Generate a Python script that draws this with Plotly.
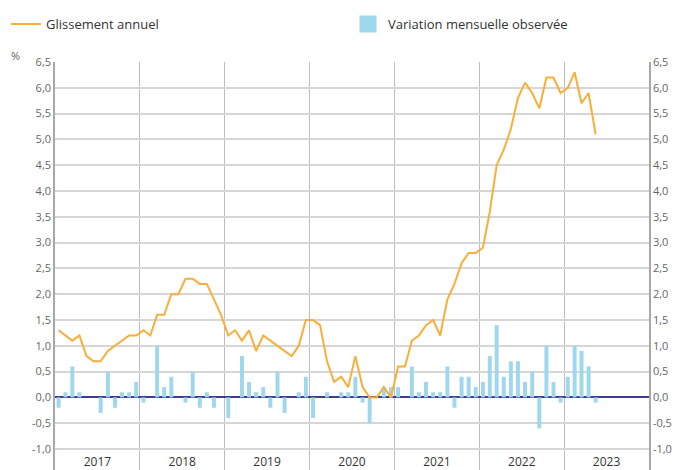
import plotly.graph_objects as go
import pandas as pd

months = pd.date_range("2017-01-01", "2023-05-01", freq="MS")

glissement_annuel = [
    1.3, 1.2, 1.1, 1.2, 0.8, 0.7, 0.7, 0.9, 1.0, 1.1, 1.2, 1.2,   # 2017
    1.3, 1.2, 1.6, 1.6, 2.0, 2.0, 2.3, 2.3, 2.2, 2.2, 1.9, 1.6,   # 2018
    1.2, 1.3, 1.1, 1.3, 0.9, 1.2, 1.1, 1.0, 0.9, 0.8, 1.0, 1.5,   # 2019
    1.5, 1.4, 0.7, 0.3, 0.4, 0.2, 0.8, 0.2, 0.0, 0.0, 0.2, 0.0,   # 2020
    0.6, 0.6, 1.1, 1.2, 1.4, 1.5, 1.2, 1.9, 2.2, 2.6, 2.8, 2.8,   # 2021
    2.9, 3.6, 4.5, 4.8, 5.2, 5.8, 6.1, 5.9, 5.6, 6.2, 6.2, 5.9,   # 2022
    6.0, 6.3, 5.7, 5.9, 5.1,                                      # 2023
]

variation_mensuelle = [
    -0.2, 0.1, 0.6, 0.1, 0.0, 0.0, -0.3, 0.5, -0.2, 0.1, 0.1, 0.3,   # 2017
    -0.1, 0.0, 1.0, 0.2, 0.4, 0.0, -0.1, 0.5, -0.2, 0.1, -0.2, 0.0,  # 2018
    -0.4, 0.0, 0.8, 0.3, 0.1, 0.2, -0.2, 0.5, -0.3, 0.0, 0.1, 0.4,   # 2019
    -0.4, 0.0, 0.1, 0.0, 0.1, 0.1, 0.4, -0.1, -0.5, 0.0, 0.2, 0.2,   # 2020
    0.2, 0.0, 0.6, 0.1, 0.3, 0.1, 0.1, 0.6, -0.2, 0.4, 0.4, 0.2,     # 2021
    0.3, 0.8, 1.4, 0.4, 0.7, 0.7, 0.3, 0.5, -0.6, 1.0, 0.3, -0.1,    # 2022
    0.4, 1.0, 0.9, 0.6, -0.1,                                        # 2023
]

y_tickvals = [-1.0, -0.5, 0.0, 0.5, 1.0, 1.5, 2.0, 2.5, 3.0, 3.5, 4.0, 4.5, 5.0, 5.5, 6.0, 6.5]
y_ticktext = ["-1,0", "-0,5", "0,0", "0,5", "1,0", "1,5", "2,0", "2,5", "3,0", "3,5",
              "4,0", "4,5", "5,0", "5,5", "6,0", "6,5"]

LINE_COLOR = "#F9AE3A"
BAR_COLOR = "#9FD7EF"
GRID = "#d6d6d6"
VGRID = "#bdbdbd"
FONT = "Open Sans"

fig = go.Figure()

fig.add_trace(go.Bar(
    x=months, y=variation_mensuelle,
    xperiod="M1", xperiodalignment="middle",
    marker=dict(color=BAR_COLOR, line=dict(width=0)),
    name="Variation mensuelle observée",
    yaxis="y", showlegend=False,
))
fig.add_trace(go.Scatter(
    x=months, y=glissement_annuel,
    xperiod="M1", xperiodalignment="middle",
    mode="lines", line=dict(color=LINE_COLOR, width=2),
    name="Glissement annuel",
    yaxis="y2", showlegend=False,
))
# legend entries
fig.add_trace(go.Scatter(
    x=[None], y=[None], mode="lines", line=dict(color=LINE_COLOR, width=2),
    name="Glissement annuel", yaxis="y2", legend="legend",
))
fig.add_trace(go.Bar(
    x=[None], y=[None], marker=dict(color=BAR_COLOR, line=dict(color=BAR_COLOR, width=5)),
    name="Variation mensuelle observée", yaxis="y", legend="legend2",
))

yr = [-1.407, 6.5]
legend_common = dict(
    orientation="h", yanchor="middle", y=1.093, xanchor="left",
    font=dict(family=FONT, size=13, color="#333333"),
    bgcolor="rgba(0,0,0,0)",
)

fig.update_layout(
    width=687, height=470,
    margin=dict(l=55, r=38, t=62, b=0, autoexpand=False),
    paper_bgcolor="white", plot_bgcolor="white",
    font=dict(family=FONT, size=11, color="#666666"),
    bargap=0.42,
    showlegend=True,
    legend=dict(x=-0.0825, **legend_common),
    legend2=dict(x=0.4933, **legend_common),
    xaxis=dict(
        type="date",
        range=["2017-01-01", "2024-01-01"],
        tick0="2017-01-01", dtick="M12", tickformat="%Y",
        ticklabelmode="period", ticklabelposition="inside",
        ticklabelstandoff=-1,
        showgrid=True, gridcolor=VGRID, gridwidth=1,
        ticks="", showline=False, zeroline=False,
        tickfont=dict(family=FONT, size=12, color="#333333"),
        fixedrange=True,
    ),
    yaxis=dict(
        range=yr, tickvals=y_tickvals, ticktext=y_ticktext,
        showgrid=True, gridcolor=GRID, gridwidth=1.5,
        zeroline=True, zerolinecolor="#3d3d8f", zerolinewidth=1.5,
        showline=True, linecolor="#a8a8a8", linewidth=1.5,
        ticks="", ticklen=0,
        tickfont=dict(family=FONT, size=11, color="#666666"),
    ),
    yaxis2=dict(
        range=yr, tickvals=y_tickvals, ticktext=y_ticktext,
        overlaying="y", side="right", anchor="x",
        showgrid=False, zeroline=False,
        showline=True, linecolor="#a8a8a8", linewidth=1.5,
        ticks="",
        tickfont=dict(family=FONT, size=11, color="#666666"),
    ),
    annotations=[dict(
        text="%", xref="paper", yref="paper", x=-0.067, y=1.017,
        xanchor="center", yanchor="middle", showarrow=False,
        font=dict(family=FONT, size=11, color="#666666"),
    )],
)

fig.write_html(
    "out.html",
    config={"displayModeBar": False},
    post_script="document.body.style.margin='0';document.body.style.overflow='hidden';",
)
